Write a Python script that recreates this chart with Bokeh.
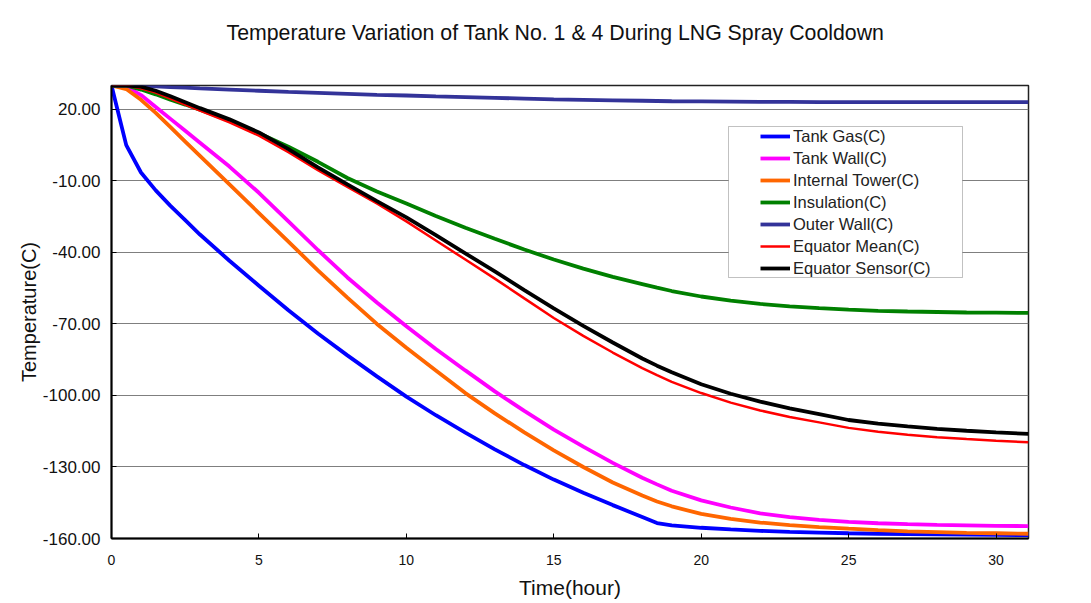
from bokeh.plotting import figure
from bokeh.models import (Range1d, FixedTicker, NumeralTickFormatter, Legend,
                          LegendItem, BoxAnnotation, Title)
from bokeh.embed import file_html
from bokeh.resources import INLINE

# ---------------- data ----------------
hours = [0, 0.5, 1, 1.5, 2, 2.5, 3, 4, 5, 6, 7, 8, 9, 10, 11, 12, 13, 14, 15,
         16, 17, 18, 18.5, 19, 20, 21, 22, 23, 24, 25, 26, 27, 28, 29, 30, 31.1]

tank_gas = [30, 5, -6.5, -14, -20.5, -26.5, -32.5, -43.5, -54, -64.3, -74,
            -83.2, -92, -100.5, -108.3, -115.6, -122.6, -129.2, -135.3,
            -140.8, -146, -151, -153.5, -154.5, -155.5, -156.2, -156.8,
            -157.2, -157.5, -157.8, -158, -158.2, -158.3, -158.4, -158.5,
            -158.6]

tank_wall = [30, 29.5, 26, 21, 16, 11, 6, -4, -15, -27, -39, -50.5, -61,
             -71, -80.5, -89.5, -98.3, -106.5, -114.3, -121.5, -128.3, -134.5,
             -137.3, -140, -144, -147, -149.5, -151, -152.2, -153, -153.6,
             -154, -154.3, -154.5, -154.7, -154.8]

internal_tower = [30, 28.5, 24, 18.5, 12.5, 6.5, 0.5, -11.5, -23.5, -35.5,
                  -47.5, -59, -70, -80, -89.5, -99, -107.5, -115.5, -123,
                  -130, -136.5, -142, -144.5, -146.5, -149.7, -151.8, -153.3,
                  -154.4, -155.2, -155.9, -156.5, -157, -157.3, -157.6,
                  -157.8, -158]

insulation = [30, 30, 28.3, 26.3, 24, 22, 19.8, 15.2, 10, 4.3, -2, -8.8,
              -14.5, -19.5, -24.7, -29.7, -34.3, -38.8, -43, -46.8, -50.3,
              -53.3, -54.8, -56.2, -58.5, -60.2, -61.6, -62.6, -63.4, -64,
              -64.5, -64.8, -65, -65.2, -65.3, -65.4]

outer_wall = [30, 30, 29.8, 29.6, 29.3, 29.1, 28.8, 28.3, 27.8, 27.3, 26.9,
              26.5, 26.1, 25.8, 25.4, 25.1, 24.8, 24.5, 24.2, 24.0, 23.8,
              23.6, 23.5, 23.4, 23.3, 23.2, 23.1, 23.1, 23.0, 23.0, 23.0,
              23.0, 23.0, 23.0, 23.0, 23.0]

equator_mean = [30, 30, 28.8, 27, 24.5, 22, 19.5, 14.5, 9, 2, -5.5, -12.5,
                -19.5, -27, -35, -43, -51, -59.3, -67.5, -75, -82, -88.5,
                -91.5, -94.3, -99, -103, -106.3, -109, -111.3, -113.6, -115.2,
                -116.5, -117.5, -118.3, -119, -119.6]

equator_sensor = [30, 30, 29.5, 27.8, 25.5, 23, 20.5, 15.8, 10.3, 3.3, -4.3,
                  -11.5, -18.5, -25.3, -32.8, -40.4, -48, -55.8, -63.5, -70.8,
                  -77.8, -84.5, -87.5, -90.3, -95.3, -99.3, -102.6, -105.4,
                  -107.8, -110.3, -111.8, -113, -114, -114.8, -115.5, -116.1]

series_names = ["Tank Gas(C)", "Tank Wall(C)", "Internal Tower(C)",
                "Insulation(C)", "Outer Wall(C)", "Equator Mean(C)",
                "Equator Sensor(C)"]
series_values = [tank_gas, tank_wall, internal_tower, insulation, outer_wall,
                 equator_mean, equator_sensor]
series_colors = ["#0000FF", "#FF00FF", "#FF6600", "#008000", "#333399",
                 "#FF0000", "#000000"]
series_widths = [3.8, 3.8, 3.8, 3.8, 3.8, 2.5, 3.8]

x_ticks = [0, 5, 10, 15, 20, 25, 30]
y_ticks = [-160, -130, -100, -70, -40, -10, 20]

title_text = "Temperature Variation of Tank No. 1 & 4 During LNG Spray Cooldown"
FONT = "Liberation Sans"

# ---------------- figure ----------------
p = figure(width=1091, height=603, output_backend="svg", toolbar_location=None,
           title=None, x_range=Range1d(0, 31.1),
           y_range=Range1d(-160, 30),
           min_border_left=111, min_border_right=63, min_border_top=85,
           min_border_bottom=65)
p.background_fill_color = "white"
p.border_fill_color = "white"
p.outline_line_color = "#222222"
p.outline_line_width = 1.5

# spacer (closest to frame) then the actual title above it
p.add_layout(Title(text=" ", text_font=FONT, text_font_size="14px",
                   standoff=18), "above")
p.add_layout(Title(text=title_text, align="left", offset=115,
                   text_font=FONT, text_font_size="21.3px",
                   text_font_style="normal", text_color="#111111"), "above")

# axes
p.xaxis.ticker = FixedTicker(ticks=x_ticks)
p.yaxis.ticker = FixedTicker(ticks=y_ticks)
p.yaxis.formatter = NumeralTickFormatter(format="0.00")
for ax in (p.xaxis, p.yaxis):
    ax.axis_line_color = "black"
    ax.axis_line_width = 2
    ax.major_tick_line_color = "black"
    ax.minor_tick_line_color = None
    ax.major_tick_out = 0
    ax.major_tick_in = 5
    ax.major_label_text_font = FONT
    ax.major_label_text_color = "#111111"
    ax.axis_label_text_font = FONT
    ax.axis_label_text_font_style = "normal"
    ax.axis_label_text_color = "#111111"
p.xaxis.major_label_text_font_size = "14px"
p.yaxis.major_label_text_font_size = "17px"
p.xaxis.major_label_standoff = 16
p.yaxis.major_label_standoff = 11
p.xaxis.axis_label = "Time(hour)"
p.yaxis.axis_label = "Temperature(C)"
p.xaxis.axis_label_text_font_size = "21px"
p.yaxis.axis_label_text_font_size = "20px"
p.xaxis.axis_label_standoff = 8
p.yaxis.axis_label_standoff = 0

p.xgrid.grid_line_color = None
p.ygrid.ticker = FixedTicker(ticks=y_ticks)
p.ygrid.grid_line_color = "#7f7f7f"
p.ygrid.grid_line_width = 1

# lines
items = []
for name, vals, col, w in zip(series_names, series_values, series_colors,
                              series_widths):
    r = p.line(hours, vals, line_color=col, line_width=w)
    items.append(LegendItem(label=name, renderers=[r]))

# legend box + legend
box = BoxAnnotation(left=617, right=851, bottom=261, top=412,
                    left_units="screen", right_units="screen",
                    bottom_units="screen", top_units="screen",
                    fill_color="white", fill_alpha=1.0,
                    line_color="#333333", line_width=1)
p.add_layout(box)

legend = Legend(items=items, location=(649, 260), padding=0, margin=0,
                border_line_color=None, background_fill_alpha=0,
                glyph_width=30, glyph_height=20, label_height=20, spacing=2,
                label_standoff=3, label_text_font=FONT,
                label_text_font_size="16.5px", label_text_color="#222222")
p.add_layout(legend)

open("out.html", "w").write(file_html(p, INLINE))
